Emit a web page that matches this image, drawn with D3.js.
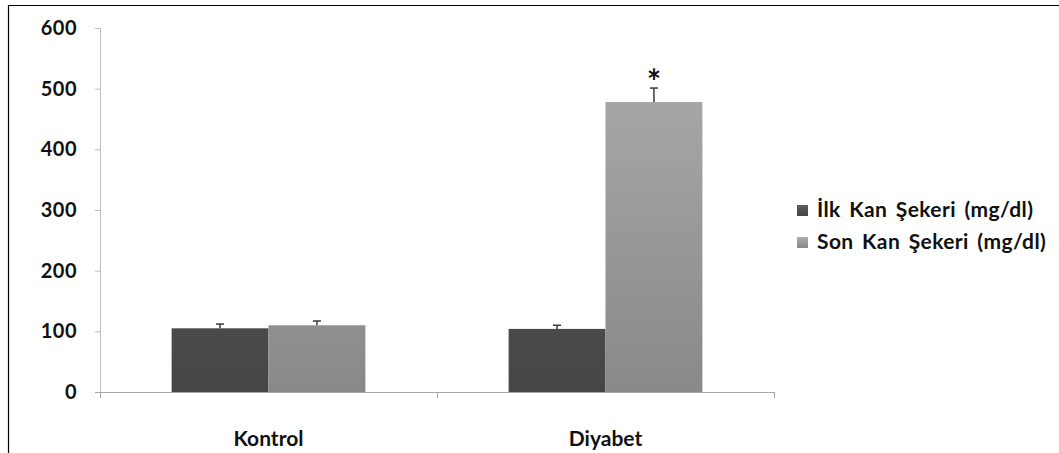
<!DOCTYPE html>
<html lang="tr">
<head>
  <meta charset="UTF-8">
  <script src="https://cdn.jsdelivr.net/npm/d3@7"></script>
  <style>
    body { margin: 0; background: #fff; }
    svg text { font-family: Lato, "Open Sans", sans-serif; font-weight: bold; fill: #111; }
  </style>
</head>
<body>
  <div id="wrapper"></div>
  <script>
    const categories = ["Kontrol", "Diyabet"];
    const seriesNames = ["İlk Kan Şekeri (mg/dl)", "Son Kan Şekeri (mg/dl)"];
    const ilkValues = [105, 104];
    const ilkErrors = [7, 6];
    const sonValues = [110, 478];
    const sonErrors = [7, 23];
    const significant = [false, true];
    const yTicks = [0, 100, 200, 300, 400, 500, 600];

    const series = [
      { name: seriesNames[0], values: ilkValues, errors: ilkErrors, grad: "gradDark" },
      { name: seriesNames[1], values: sonValues, errors: sonErrors, grad: "gradLight" },
    ];

    const dimensions = {
      width: 1059,
      height: 453,
      margin: { top: 28, right: 285, bottom: 61, left: 100 },
    };
    dimensions.boundedWidth = dimensions.width - dimensions.margin.left - dimensions.margin.right;
    dimensions.boundedHeight = dimensions.height - dimensions.margin.top - dimensions.margin.bottom;

    const svg = d3.select("#wrapper").append("svg")
      .attr("width", dimensions.width)
      .attr("height", dimensions.height);

    // frame (only top and left visible in the picture)
    svg.append("path")
      .attr("d", "M8.5,453 V5.5 H1059")
      .attr("fill", "none")
      .attr("stroke", "#000")
      .attr("stroke-width", 1.2);

    const defs = svg.append("defs");
    const gradients = [
      { id: "gradDark", top: "#5c5c5c", bottom: "#464646" },
      { id: "gradLight", top: "#adadad", bottom: "#898989" },
    ];
    gradients.forEach(g => {
      const lg = defs.append("linearGradient")
        .attr("id", g.id)
        .attr("x1", 0).attr("x2", 0)
        .attr("gradientUnits", "userSpaceOnUse")
        .attr("y1", 0)
        .attr("y2", dimensions.boundedHeight);
      lg.append("stop").attr("offset", "0%").attr("stop-color", g.top);
      lg.append("stop").attr("offset", "100%").attr("stop-color", g.bottom);

      const lgLegend = defs.append("linearGradient")
        .attr("id", g.id + "L")
        .attr("x1", 0).attr("y1", 0).attr("x2", 0).attr("y2", 1);
      lgLegend.append("stop").attr("offset", "0%").attr("stop-color", g.top);
      lgLegend.append("stop").attr("offset", "100%").attr("stop-color", g.bottom);
    });

    const bounds = svg.append("g")
      .attr("transform", `translate(${dimensions.margin.left},${dimensions.margin.top})`);

    const xScale = d3.scaleBand()
      .domain(categories)
      .range([0, dimensions.boundedWidth])
      .paddingInner(0.425)
      .paddingOuter(0.2125);

    const xSub = d3.scaleBand()
      .domain(d3.range(series.length))
      .range([0, xScale.bandwidth()]);

    const yScale = d3.scaleLinear()
      .domain([0, 600])
      .range([dimensions.boundedHeight, 0]);

    // y axis
    const yAxis = bounds.append("g")
      .call(d3.axisLeft(yScale).tickValues(yTicks).tickSize(5).tickPadding(18));
    yAxis.selectAll("path, line").attr("stroke", "#bdbdbd");
    yAxis.select(".domain").attr("d", `M-5,0.5 H0.5 V${dimensions.boundedHeight}`);
    yAxis.selectAll("text")
      .style("font-family", "Lato, 'Open Sans', sans-serif")
      .style("font-weight", "bold")
      .style("font-size", "20px")
      .style("letter-spacing", "0.5px")
      .attr("fill", "#111");

    // bars
    series.forEach((s, si) => {
      bounds.append("g").selectAll("rect")
        .data(categories)
        .join("rect")
        .attr("x", (c, i) => xScale(c) + xSub(si))
        .attr("y", (c, i) => yScale(s.values[i]))
        .attr("width", xSub.bandwidth())
        .attr("height", (c, i) => yScale(0) - yScale(s.values[i]))
        .attr("fill", `url(#${s.grad})`);

      const err = bounds.append("g").selectAll("g")
        .data(categories)
        .join("g")
        .attr("transform", (c, i) => `translate(${xScale(c) + xSub(si) + xSub.bandwidth() / 2},0)`);
      err.append("line")
        .attr("y1", (c, i) => yScale(s.values[i]))
        .attr("y2", (c, i) => yScale(s.values[i] + s.errors[i]))
        .attr("stroke", "#3a3a3a")
        .attr("stroke-width", 1.5);
      err.append("line")
        .attr("x1", -4).attr("x2", 4)
        .attr("y1", (c, i) => yScale(s.values[i] + s.errors[i]))
        .attr("y2", (c, i) => yScale(s.values[i] + s.errors[i]))
        .attr("stroke", "#3a3a3a")
        .attr("stroke-width", 1.5);
    });

    // significance marker
    bounds.append("g").selectAll("text")
      .data(categories.filter((c, i) => significant[i]))
      .join("text")
      .attr("x", c => xScale(c) + xSub(1) + xSub.bandwidth() / 2)
      .attr("y", c => {
        const i = categories.indexOf(c);
        return yScale(sonValues[i] + sonErrors[i]) + 6;
      })
      .attr("text-anchor", "middle")
      .style("font-size", "34px")
      .text("*");

    // x axis
    const xAxis = bounds.append("g")
      .attr("transform", `translate(0,${dimensions.boundedHeight})`);
    xAxis.append("line")
      .attr("x1", -5).attr("x2", dimensions.boundedWidth)
      .attr("y1", 0.5).attr("y2", 0.5)
      .attr("stroke", "#a8a8a8");
    const sepTicks = [0].concat(categories.map(c => xScale(c) + xScale.bandwidth() + xScale.step() * xScale.paddingInner() / 2));
    xAxis.selectAll(".sep")
      .data(sepTicks)
      .join("line")
      .attr("class", "sep")
      .attr("x1", d => Math.round(d) + 0.5).attr("x2", d => Math.round(d) + 0.5)
      .attr("y1", 0).attr("y2", 6)
      .attr("stroke", "#a8a8a8");
    xAxis.selectAll(".cat")
      .data(categories)
      .join("text")
      .attr("class", "cat")
      .attr("x", c => xScale(c) + xScale.bandwidth() / 2)
      .attr("y", 54)
      .attr("text-anchor", "middle")
      .style("font-size", "21px")
      .text(c => c);

    // legend
    const legend = svg.append("g")
      .attr("transform", "translate(797,0)");
    const legendItems = legend.selectAll("g")
      .data(series)
      .join("g")
      .attr("transform", (s, i) => `translate(0,${210 + i * 32})`);
    legendItems.append("rect")
      .attr("x", 0).attr("y", -5)
      .attr("width", 11).attr("height", 11)
      .attr("fill", s => `url(#${s.grad}L)`);
    legendItems.append("text")
      .attr("x", 20)
      .attr("y", 7)
      .style("font-size", "21px")
      .style("word-spacing", "3px")
      .style("letter-spacing", "0.4px")
      .text(s => s.name);
  </script>
</body>
</html>
